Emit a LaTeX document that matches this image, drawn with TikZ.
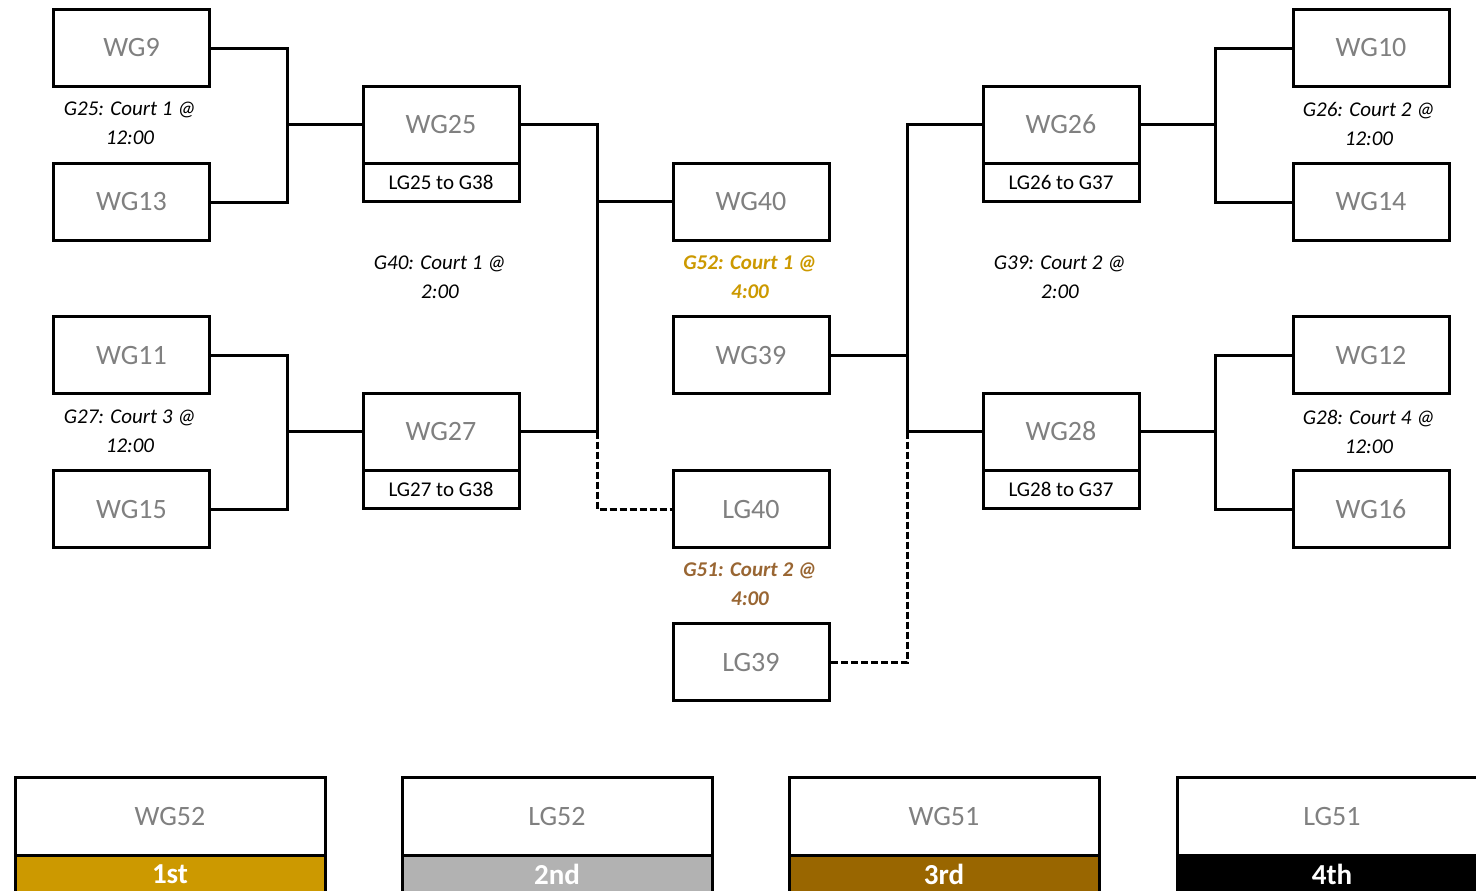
\documentclass[tikz,border=0pt]{standalone}
\usepackage{fontspec}
\setmainfont{Carlito}
\usetikzlibrary{positioning}

\definecolor{goldc}{RGB}{204,153,0}
\definecolor{silverc}{RGB}{178,178,178}
\definecolor{bronzec}{RGB}{153,102,0}
\definecolor{bronzetxt}{RGB}{153,102,51}
\definecolor{teamgray}{RGB}{128,128,128}

\tikzset{
  team/.style={draw=black, line width=1.5pt, outer sep=0pt, inner sep=0pt,
    minimum width=78pt, minimum height=38.5pt, text=teamgray,
    font=\fontsize{14}{16}\selectfont},
  loss/.style={draw=black, line width=1.5pt, outer sep=0pt, inner sep=0pt,
    minimum width=78pt, minimum height=19pt,
    font=\fontsize{10.5}{12}\selectfont},
  slot/.style={align=center, font=\fontsize{10.5}{14.5}\selectfont\itshape},
  link/.style={line width=1.5pt},
  loser/.style={line width=1.5pt, dash pattern=on 3.5pt off 1.5pt},
  place/.style={draw=black, line width=1.5pt, outer sep=0pt, inner sep=0pt,
    minimum width=155pt, minimum height=39pt, text=teamgray,
    font=\fontsize{14}{16}\selectfont},
  medal/.style={draw=black, line width=1.5pt, outer sep=0pt, inner sep=0pt,
    minimum width=155pt, minimum height=19pt, text=white,
    font=\fontsize{14.5}{16}\selectfont\bfseries}
}

\begin{document}
\begin{tikzpicture}[x=0.5pt, y=-0.5pt]
    \useasboundingbox (0,0) rectangle (1476,890);

    % First round, left and right columns
    \foreach \nm/\lab/\y in {wg9/WG9/48, wg13/WG13/202, wg11/WG11/355, wg15/WG15/509}
        \node[team] (\nm) at (131.5,\y) {\lab};
    \foreach \nm/\lab/\y in {wg10/WG10/48, wg14/WG14/202, wg12/WG12/355, wg16/WG16/509}
        \node[team] (\nm) at (1371,\y) {\lab};

    % Second round, with the loser line under each box
    \foreach \nm/\num/\to/\x/\y in {wg25/25/38/441/124.5, wg27/27/38/441/431.5,
                                     wg26/26/37/1061/124.5, wg28/28/37/1061/431.5} {
        \node[team] (\nm) at (\x,\y) {WG\num};
        \node[loss, below=0pt of \nm] (lg\num) {LG\num{} to G\to};
    }

    % Middle column
    \node[team] (wg40) at (751,201.5) {WG40};
    \node[team] (wg39) at (751,355) {WG39};
    \node[team] (lg40) at (751,509) {LG40};
    \node[team] (lg39) at (751,662) {LG39};

    % Game slots
    \node[slot] (s25) at (130,123.5) {G25: Court 1 @\\12:00};
    \node[slot] (s27) at (130,431.5) {G27: Court 3 @\\12:00};
    \node[slot] (s40) at (440,277.5) {G40: Court 1 @\\2:00};
    \node[slot, text=goldc, font=\fontsize{10.5}{14.5}\selectfont\bfseries\itshape]
        (s52) at (750,277.5) {G52: Court 1 @\\4:00};
    \node[slot, text=bronzetxt, font=\fontsize{10.5}{14.5}\selectfont\bfseries\itshape]
        (s51) at (750,584.5) {G51: Court 2 @\\4:00};
    \node[slot] (s39) at (1060,277.5) {G39: Court 2 @\\2:00};
    \node[slot] (s26) at (1369,123.5) {G26: Court 2 @\\12:00};
    \node[slot] (s28) at (1369,431.5) {G28: Court 4 @\\12:00};

    % Bracket joints
    \coordinate (j25) at (287,124.5);
    \coordinate (j27) at (287,431.5);
    \coordinate (j40) at (597,201.5);
    \coordinate (j39) at (907,355);
    \coordinate (j26) at (1215,124.5);
    \coordinate (j28) at (1215,431.5);

    % Winner lines
    \draw[link] (wg9.east) -| (j25) |- (wg13.east);
    \draw[link] (j25) -- (wg25.west);
    \draw[link] (wg11.east) -| (j27) |- (wg15.east);
    \draw[link] (j27) -- (wg27.west);
    \draw[link] (wg25.east) -| (j40) |- (wg27.east);
    \draw[link] (j40) -- (wg40.west);
    \draw[link] (wg26.west) -| (j39) |- (wg28.west);
    \draw[link] (wg39.east) -- (j39);
    \draw[link] (wg10.west) -| (j26) |- (wg14.west);
    \draw[link] (j26) -- (wg26.east);
    \draw[link] (wg12.west) -| (j28) |- (wg16.west);
    \draw[link] (j28) -- (wg28.east);

    % Loser lines
    \draw[loser] (j40 |- wg27.east) |- (lg40.west);
    \draw[loser] (j39 |- wg28.west) |- (lg39.east);

    % Final places
    \foreach \nm/\lab/\x/\col/\rank in {wg52/WG52/170/goldc/1st, lg52/LG52/557/silverc/2nd,
                                        wg51/WG51/944/bronzec/3rd, lg51/LG51/1332/black/4th} {
        \node[place] (\nm) at (\x,816) {\lab};
        \node[medal, fill=\col, below=0pt of \nm] (\nm m) {\rank};
    }
\end{tikzpicture}
\end{document}
